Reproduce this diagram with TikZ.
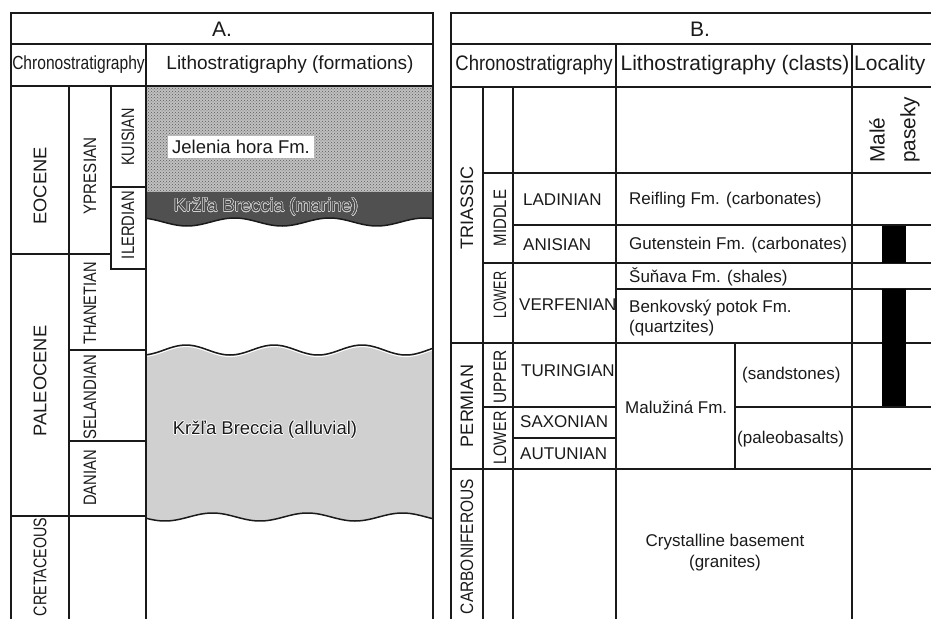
\documentclass[tikz,border=0pt]{standalone}
\usepackage{fontspec}
\setmainfont{Liberation Sans}
\usepackage[copies]{contour}
\contourlength{0.55pt}
\usetikzlibrary{patterns}
\definecolor{linec}{HTML}{1A1A1A}
\definecolor{marinec}{HTML}{505050}
\definecolor{marinetxt}{HTML}{484848}
\definecolor{alluvc}{HTML}{D0D0D0}
\definecolor{dotbg}{HTML}{C0C0C0}
\newcommand\setfs[1]{\fontsize{#1}{#1}\selectfont}
\newcommand\cond[2]{\scalebox{#1}[1]{#2}}
\tikzset{
  grid/.style={draw=linec, line width=1.7pt},
  wave/.style={draw=linec, line width=1.5pt},
  lbl/.style={inner sep=0pt, text=linec},
  hdrA/.style={lbl, font=\setfs{19}},
  hdrB/.style={lbl, font=\setfs{21}},
  serA/.style={lbl, rotate=90, font=\setfs{18.3}},
  stgA/.style={lbl, rotate=90, font=\setfs{18}},
  serB/.style={lbl, rotate=90, font=\setfs{18}},
  subB/.style={lbl, rotate=90, font=\setfs{18}},
  stgB/.style={lbl, anchor=west, font=\setfs{17}},
  fmB/.style={lbl, anchor=west, font=\setfs{17}, align=left},
  fmA/.style={lbl, font=\setfs{18.5}}
}
\begin{document}
\begin{tikzpicture}[x=1pt,y=-1pt]
\useasboundingbox (0,0) rectangle (931,618);
\clip (0,0) rectangle (931,618);
% ---------- Panel A fills ----------
\fill[dotbg] (146,86) rectangle (433,192);
\fill[pattern=crosshatch dots, pattern color=black!65] (146,86) rectangle (433,192);
\fill[marinec] (146,192) -- plot[domain=146:433,samples=100] (\x,{222+4*cos((\x-187)*3.78947)}) -- (433,192) -- cycle;
\fill[alluvc] plot[domain=146:433,samples=100] (\x,{350+5*cos((\x-230)*4.0909)})
  -- plot[domain=0:287,samples=100] ({433-\x},{517+4*cos((433-\x-165)*3.78947)}) -- cycle;
\draw[wave] plot[domain=146:433,samples=100] (\x,{222+4*cos((\x-187)*3.78947)});
\draw[white, line width=1pt] plot[domain=146:433,samples=100] (\x,{351.6+5*cos((\x-230)*4.0909)});
\draw[wave] plot[domain=146:433,samples=100] (\x,{350+5*cos((\x-230)*4.0909)});
\draw[wave] plot[domain=146:433,samples=100] (\x,{517+4*cos((\x-165)*3.78947)});
% ---------- Panel A grid ----------
\draw[grid] (11,640) -- (11,13) -- (433,13) -- (433,640);
\draw[grid] (11,44) -- (433,44);
\draw[grid] (11,86) -- (433,86);
\draw[grid] (146,44) -- (146,640);
\draw[grid] (69,86) -- (69,640);
\draw[grid] (111,86) -- (111,269) -- (146,269);
\draw[grid] (111,187) -- (146,187);
\draw[grid] (11,254) -- (111,254);
\draw[grid] (69,350) -- (146,350);
\draw[grid] (69,441) -- (146,441);
\draw[grid] (11,516) -- (146,516);
% ---------- Panel A text ----------
\node[hdrB] (titA) at (222,29) {A.};
\node[hdrA] (chrA) at (78.5,65) {\cond{0.82}{Chronostratigraphy}};
\node[hdrA] (litA) at (290,65) {Lithostratigraphy (formations)};
\node[serA] (eoc) at (40,186) {EOCENE};
\node[serA] (pal) at (40,381) {PALEOCENE};
\node[serA] (cre) at (40,567) {\cond{0.78}{CRETACEOUS}};
\node[stgA] (ypr) at (90,176) {\cond{0.84}{YPRESIAN}};
\node[stgA] (kui) at (128,137) {\cond{0.8}{KUISIAN}};
\node[stgA] (ile) at (128,225) {\cond{0.82}{ILERDIAN}};
\node[stgA] (tha) at (90,303.5) {\cond{0.81}{THANETIAN}};
\node[stgA] (sel) at (90,397) {\cond{0.83}{SELANDIAN}};
\node[stgA] (dan) at (90,478) {\cond{0.82}{DANIAN}};
\node[fmA, fill=white, minimum width=146pt, minimum height=22pt] (jel) at (241,147) {Jelenia hora Fm.};
\node[fmA, text=marinetxt] (mar) at (266,207) {\contourlength{0.5pt}\contour{black!18}{Kržľa Breccia (marine)}};
\node[fmA] (all) at (265,430) {\contour{white}{Kržľa Breccia (alluvial)}};
% ---------- Panel B grid ----------
\draw[grid] (451,640) -- (451,13) -- (945,13);
\draw[grid] (451,44) -- (945,44);
\draw[grid] (451,87) -- (945,87);
\draw[grid] (616,44) -- (616,640);
\draw[grid] (852,44) -- (852,640);
\draw[grid] (483,87) -- (483,640);
\draw[grid] (513,87) -- (513,640);
\draw[grid] (735,343) -- (735,469);
\draw[grid] (483,173) -- (945,173);
\draw[grid] (513,225) -- (945,225);
\draw[grid] (483,263) -- (945,263);
\draw[grid] (616,289) -- (945,289);
\draw[grid] (451,343) -- (945,343);
\draw[grid] (483,407) -- (616,407);
\draw[grid] (735,407) -- (945,407);
\draw[grid] (513,438) -- (616,438);
\draw[grid] (451,469) -- (945,469);
\fill[black] (882,226) rectangle (906,263);
\fill[black] (882,289) rectangle (906,406);
% ---------- Panel B text ----------
\node[hdrB] (titB) at (700,29) {B.};
\node[hdrB] (chrB) at (534,65) {\cond{0.88}{Chronostratigraphy}};
\node[hdrB] (litB) at (735,65) {Lithostratigraphy (clasts)};
\node[hdrB, anchor=west] (locB) at (854,65) {Locality};
\node[lbl, rotate=90, anchor=west, font=\setfs{20.8}] (male) at (877,163) {Malé};
\node[lbl, rotate=90, anchor=west, font=\setfs{20.8}] (pas) at (910,163) {paseky};
\node[serB] (tri) at (467,208) {TRIASSIC};
\node[serB] (per) at (467,406) {PERMIAN};
\node[serB] (car) at (467,546.5) {\cond{0.86}{CARBONIFEROUS}};
\node[subB] (mid) at (500,218) {\cond{0.83}{MIDDLE}};
\node[subB] (lowT) at (500,295) {\cond{0.7}{LOWER}};
\node[subB] (upp) at (500,377) {\cond{0.86}{UPPER}};
\node[subB] (lowP) at (500,438) {\cond{0.8}{LOWER}};
\node[stgB] (lad) at (523,200) {LADINIAN};
\node[stgB] (ani) at (523,245) {ANISIAN};
\node[stgB] (ver) at (519,305) {VERFENIAN};
\node[stgB] (tur) at (521,371) {TURINGIAN};
\node[stgB] (sax) at (520,422) {SAXONIAN};
\node[stgB] (aut) at (520,454) {AUTUNIAN};
\node[fmB] (rei) at (629,200) {Reifling Fm. (carbonates)};
\node[fmB] (gut) at (629,245) {Gutenstein Fm. (carbonates)};
\node[fmB] (sun) at (629,277) {Šuňava Fm. (shales)};
\node[fmB] (ben) at (629,308) {Benkovský potok Fm.};
\node[fmB] (qua) at (629,328) {(quartzites)};
\node[fmB] (mal) at (625,407) {Malužiná Fm.};
\node[fmB] (san) at (742,375) {(sandstones)};
\node[fmB] (pb) at (737,439) {(paleobasalts)};
\node[lbl, font=\setfs{17}] (cry) at (725,542) {Crystalline basement};
\node[lbl, font=\setfs{17}] (gra) at (725,563) {(granites)};
\end{tikzpicture}
\end{document}
